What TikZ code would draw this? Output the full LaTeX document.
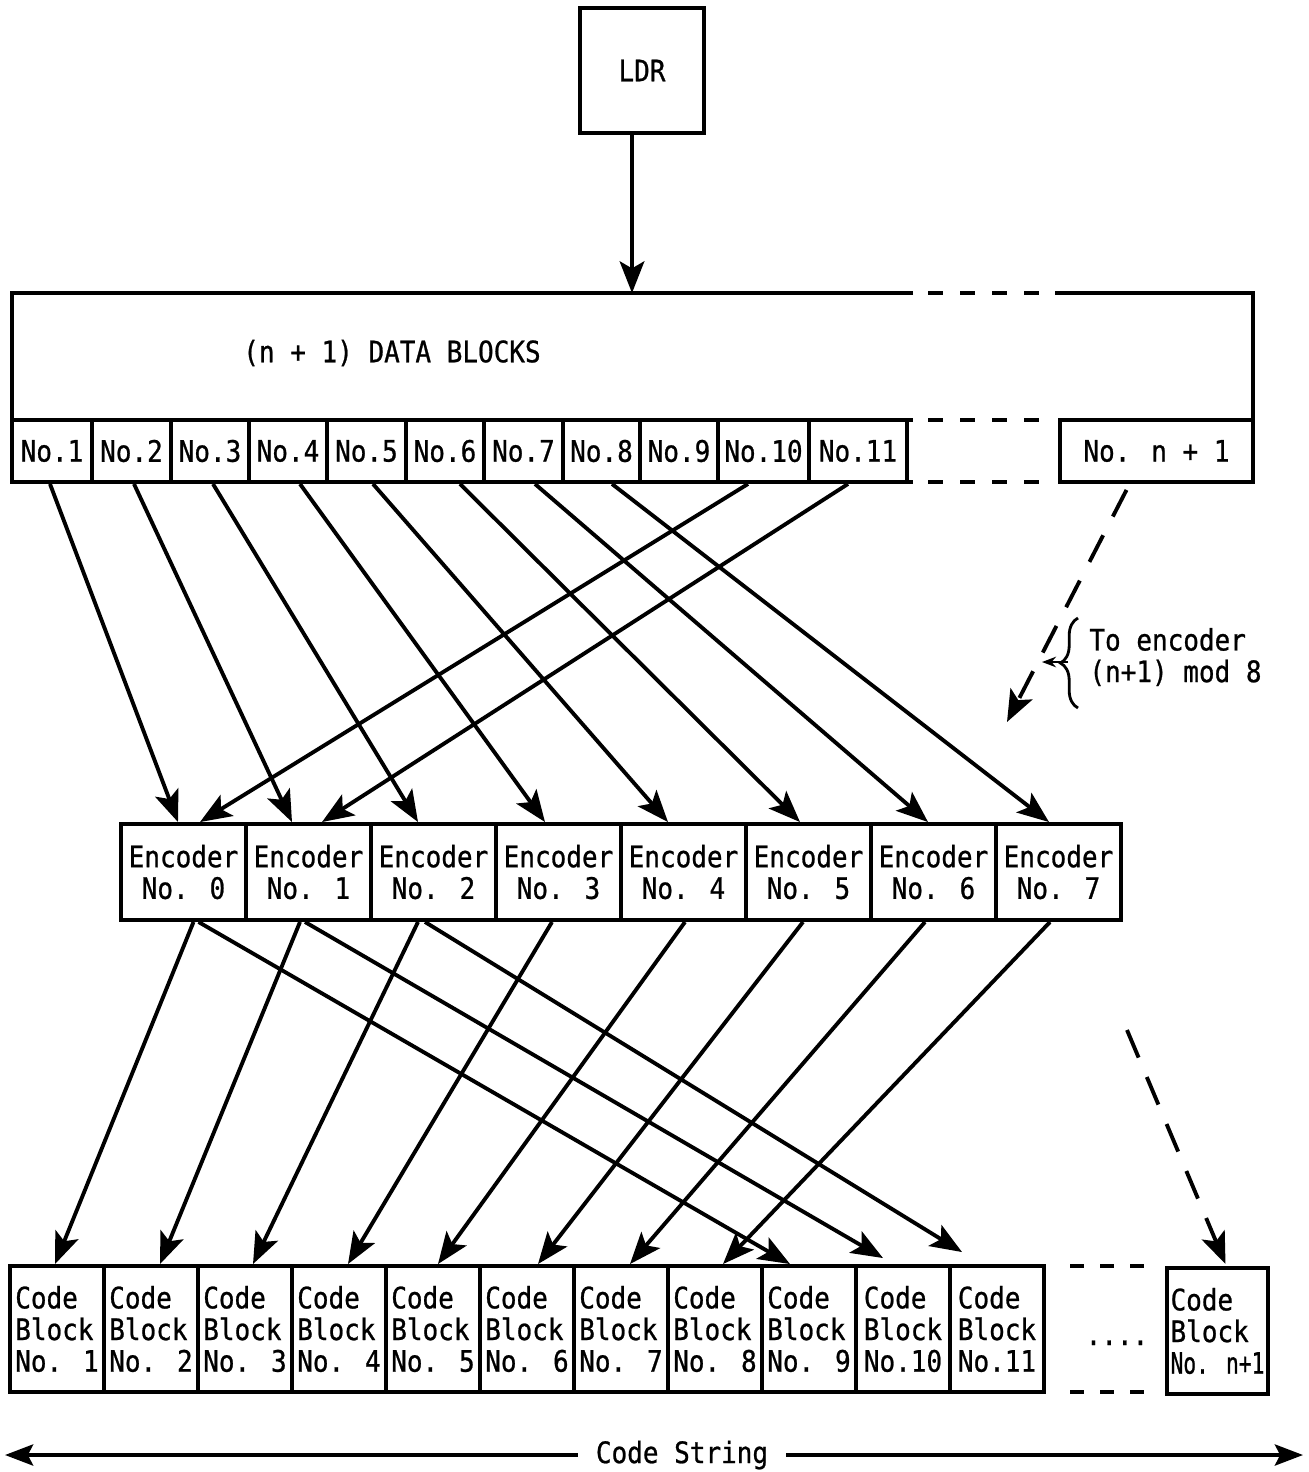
\documentclass[tikz,border=0pt]{standalone}
\usepackage{fontspec}
\setmainfont{DejaVu Sans Mono}[FakeStretch=0.88,FakeBold=0.8]
\newfontfamily\narrowfont{DejaVu Sans Mono}[FakeStretch=0.72,FakeBold=0.8]
\usetikzlibrary{arrows.meta,calc,decorations.pathreplacing}

\begin{document}
\begin{tikzpicture}[x=0.01cm,y=-0.01cm,
    font=\fontsize{8.4}{9}\selectfont,
    box/.style={draw, line width=1.1pt, inner sep=0pt},
    dcell/.style={box, minimum height=0.62cm},
    ecell/.style={box, minimum width=1.25cm, minimum height=0.96cm, align=center},
    ccell/.style={box, minimum width=0.94cm, minimum height=1.26cm, align=left},
    arr/.style={-{Stealth[length=9pt,width=7pt,inset=2pt]}, line width=1.1pt},
    darr/.style={arr, dash pattern=on 8.5pt off 6pt},
    gapline/.style={line width=1.1pt, dash pattern=on 4.27pt off 4.84pt}]
      \useasboundingbox (0,0) rectangle (1308,1472);

      \node[box, minimum width=1.24cm, minimum height=1.25cm] (ldrN) at (642,70.5) {LDR};

      % data blocks
      \node (dataTxtN) at (392,353) {(n + 1) DATA BLOCKS};
      \coordinate (dataTop) at (632,293);

      \node[dcell, minimum width=0.80cm] (d1N)  at (52,451)    {No.1};
      \node[dcell, minimum width=0.79cm] (d2N)  at (131.5,451) {No.2};
      \node[dcell, minimum width=0.78cm] (d3N)  at (210,451)   {No.3};
      \node[dcell, minimum width=0.78cm] (d4N)  at (288,451)   {No.4};
      \node[dcell, minimum width=0.79cm] (d5N)  at (366.5,451) {No.5};
      \node[dcell, minimum width=0.78cm] (d6N)  at (445,451)   {No.6};
      \node[dcell, minimum width=0.79cm] (d7N)  at (523.5,451) {No.7};
      \node[dcell, minimum width=0.77cm] (d8N)  at (601.5,451) {No.8};
      \node[dcell, minimum width=0.78cm] (d9N)  at (679,451)   {No.9};
      \node[dcell, minimum width=0.91cm] (d10N) at (763.5,451) {No.10};
      \node[dcell, minimum width=0.98cm] (d11N) at (858,451)   {No.11};
      \node[dcell, minimum width=1.93cm] (dnN)  at (1156.5,451) {No. n + 1};

      \draw[box] (913,293) -- (12,293) -- (12,420);
      \draw[box] (1055,293) -- (1253,293) -- (1253,420);
      \draw[box] (907,420) -- (913,420);
      \draw[box] (907,482) -- (913,482);
      \draw[gapline] (928,293) -- (1040,293);
      \draw[gapline] (928,420) -- (1040,420);
      \draw[gapline] (928,482) -- (1040,482);

      % encoders
      \node[ecell] (e0N) at (183.5,872)  {Encoder\\No. 0};
      \node[ecell] (e1N) at (308.5,872)  {Encoder\\No. 1};
      \node[ecell] (e2N) at (433.5,872)  {Encoder\\No. 2};
      \node[ecell] (e3N) at (558.5,872)  {Encoder\\No. 3};
      \node[ecell] (e4N) at (683.5,872)  {Encoder\\No. 4};
      \node[ecell] (e5N) at (808.5,872)  {Encoder\\No. 5};
      \node[ecell] (e6N) at (933.5,872)  {Encoder\\No. 6};
      \node[ecell] (e7N) at (1058.5,872) {Encoder\\No. 7};

      % code blocks
      \node[ccell] (c1N)  at (57,1329)  {Code\\Block\\No. 1};
      \node[ccell] (c2N)  at (151,1329) {Code\\Block\\No. 2};
      \node[ccell] (c3N)  at (245,1329) {Code\\Block\\No. 3};
      \node[ccell] (c4N)  at (339,1329) {Code\\Block\\No. 4};
      \node[ccell] (c5N)  at (433,1329) {Code\\Block\\No. 5};
      \node[ccell] (c6N)  at (527,1329) {Code\\Block\\No. 6};
      \node[ccell] (c7N)  at (621,1329) {Code\\Block\\No. 7};
      \node[ccell] (c8N)  at (715,1329) {Code\\Block\\No. 8};
      \node[ccell] (c9N)  at (809,1329) {Code\\Block\\No. 9};
      \node[ccell] (c10N) at (903,1329) {Code\\Block\\No.10};
      \node[ccell] (c11N) at (997,1329) {Code\\Block\\No.11};
      \node[ccell, minimum width=1.01cm] (cnN) at (1217.5,1331) {Code\\Block\\{\narrowfont No. n+1}};
      \node[anchor=base] (dotsN) at (1117,1345) {....};

      \draw[gapline, dash pattern=on 4pt off 4.55pt] (1070,1266) -- (1145,1266);
      \draw[gapline, dash pattern=on 4pt off 4.55pt] (1070,1392) -- (1145,1392);

      % to encoder (n+1) mod 8
      \coordinate (dashA) at (1007,722);
      \coordinate (dashMark) at (1042,662);
      \coordinate (braceTip) at (1068,662);
      \node[anchor=west, align=left] (modN) at (1077,657) {To encoder\\(n+1) mod 8};
      \draw[decorate, decoration={brace, amplitude=5pt}, line width=0.8pt] (1078,708) -- (1078,618);
      \draw[-{Stealth[length=4pt,width=3pt]}, line width=0.6pt] (braceTip) -- (dashMark);

      % code string
      \node[inner sep=5pt] (strN) at (682,1455) {Code String};
      \coordinate (strL) at (5,1455);
      \coordinate (strR) at (1303,1455);
      \draw[-{Stealth[length=8pt,width=6pt,inset=1.5pt]}, line width=1.1pt] (strN.west) -- (strL);
      \draw[-{Stealth[length=8pt,width=6pt,inset=1.5pt]}, line width=1.1pt] (strN.east) -- (strR);

      \draw[arr] ($(ldrN.south)+(-10,0)$) -- (dataTop);

      \draw[arr] ($(d1N.south)+(-2,0)$)    -- ($(e0N.north)+(-5.5,0)$);
      \draw[arr] ($(d2N.south)+(2.5,0)$)   -- ($(e1N.north)+(-16.5,0)$);
      \draw[arr] ($(d3N.south)+(3,0)$)     -- ($(e2N.north)+(-15.5,0)$);
      \draw[arr] ($(d4N.south)+(12,0)$)    -- ($(e3N.north)+(-13.5,0)$);
      \draw[arr] ($(d5N.south)+(6.5,0)$)   -- ($(e4N.north)+(-15.5,0)$);
      \draw[arr] ($(d6N.south)+(15,0)$)    -- ($(e5N.north)+(-8.5,0)$);
      \draw[arr] ($(d7N.south)+(11.5,0)$)  -- ($(e6N.north)+(-5.5,0)$);
      \draw[arr] ($(d8N.south)+(10.5,0)$)  -- ($(e7N.north)+(-9.5,0)$);
      \draw[arr] ($(d10N.south)+(-15.5,0)$) -- ($(e0N.north)+(16.5,0)$);
      \draw[arr] ($(d11N.south)+(-10,0)$)  -- ($(e1N.north)+(13.5,0)$);
      \draw[darr] ($(dnN.south)+(-30,6)$)  -- (dashA);

      \draw[arr] ($(e0N.south)+(10,0)$)   -- ($(c1N.north)+(-2,0)$);
      \draw[arr] ($(e0N.south)+(15,0)$)   -- ($(c9N.north)+(-19,0)$);
      \draw[arr] ($(e1N.south)+(-8.5,0)$) -- ($(c2N.north)+(9,0)$);
      \draw[arr] ($(e1N.south)+(-3.5,0)$) -- ($(c10N.north)+(-20,-6)$);
      \draw[arr] ($(e2N.south)+(-15.5,0)$) -- ($(c3N.north)+(8,0)$);
      \draw[arr] ($(e2N.south)+(-8.5,0)$) -- ($(c11N.north)+(-35,-12)$);
      \draw[arr] ($(e3N.south)+(-6.5,0)$) -- ($(c4N.north)+(9,0)$);
      \draw[arr] ($(e4N.south)+(1.5,0)$)  -- ($(c5N.north)+(5,0)$);
      \draw[arr] ($(e5N.south)+(-5.5,0)$) -- ($(c6N.north)+(11,0)$);
      \draw[arr] ($(e6N.south)+(-8.5,0)$) -- ($(c7N.north)+(9,0)$);
      \draw[arr] ($(e7N.south)+(-8.5,0)$) -- ($(c8N.north)+(8,0)$);

      \coordinate (dashB) at (1127,1030);
      \draw[darr] (dashB) -- ($(cnN.north)+(8,-2)$);
    \end{tikzpicture}
\end{document}
